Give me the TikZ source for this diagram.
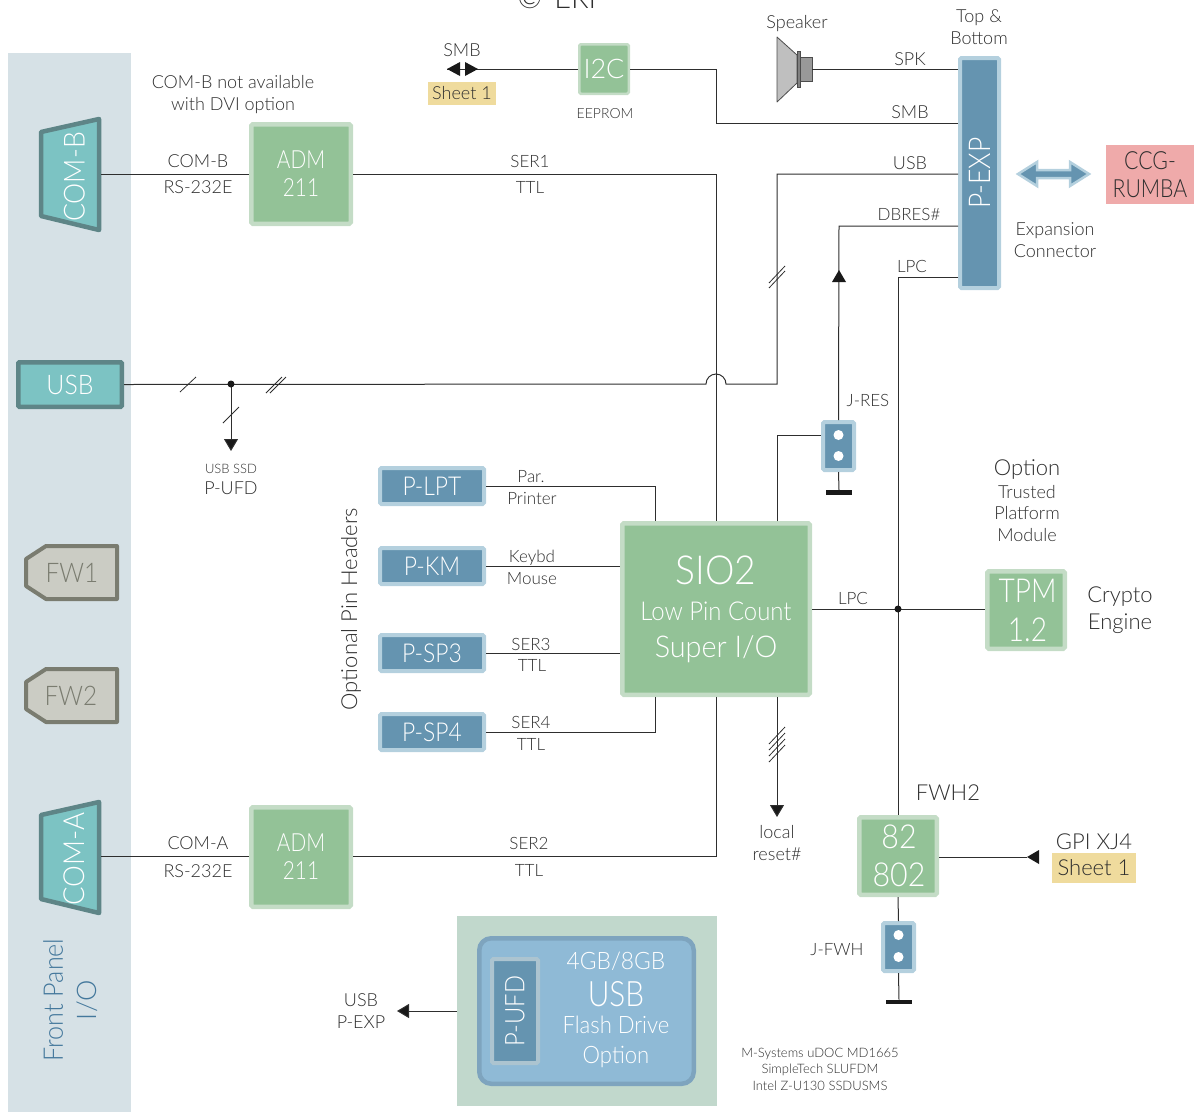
\documentclass[tikz,border=0pt]{standalone}
\usepackage{fontspec}
\usepackage{graphicx}
\setmainfont{Lato Light}
\usetikzlibrary{arrows.meta,calc}
\definecolor{panel}{HTML}{D6E1E6}
\definecolor{teal}{HTML}{7CC3C3}
\definecolor{tealdk}{HTML}{5E8587}
\definecolor{grn}{HTML}{93C297}
\definecolor{grnlt}{HTML}{C4DCC6}
\definecolor{blu}{HTML}{6594B0}
\definecolor{blult}{HTML}{B4D0DE}
\definecolor{fwf}{HTML}{CBCCC4}
\definecolor{fwd}{HTML}{7A7C70}
\definecolor{sheet}{HTML}{EFDB9D}
\definecolor{pinkb}{HTML}{EFAAAA}
\definecolor{ink}{HTML}{2E2E2E}
\definecolor{fpanel}{HTML}{44789C}
\definecolor{usbpanel}{HTML}{C1D8CC}
\definecolor{flash}{HTML}{8FBAD6}
\definecolor{flashd}{HTML}{7EA4BE}
\newcommand\fs[1]{\fontsize{#1}{#1}\selectfont}
\newcommand\nx[2][.86]{\scalebox{#1}[1]{#2}}
\newcommand\T[5]{\node[txt,font=\fs{#4}] (#1) at (#2,{#3+0.37*#4}) {#5};}
\newcommand\Rt[6]{\node[txt,rotate=90,font=\fs{#4},text=#5] (#1) at ({#2+0.37*#4},#3) {#6};}
\begin{document}
\begin{tikzpicture}[x=1pt,y=-1pt,
  txt/.style={inner sep=0,anchor=base,text=ink,align=center},
  wire/.style={draw=ink,line width=1pt},
  arr/.style={wire,-{Triangle[length=12pt,width=14pt,fill=black!90]}},
  busslash/.style={draw=ink,line width=.8pt},
  chip/.style={draw=grnlt,fill=grn,line width=4.5pt,rounded corners=1.5pt,text=white,inner sep=0,align=center},
  hdr/.style={draw=blult,fill=blu,line width=4pt,rounded corners=1.5pt,text=white,inner sep=0,align=center},
  conn/.style={draw=tealdk,fill=teal,line width=4.5pt,line join=round},
  fwshape/.style={draw=fwd,fill=fwf,line width=4pt,line join=round},
  hole/.style={circle,fill=white,inner sep=0,minimum size=10pt},
  gnd/.style={fill=black!90,inner sep=0,minimum width=26pt,minimum height=4.5pt},
  tag/.style={fill=sheet,text=ink,inner sep=0,align=center}]
\useasboundingbox (0,0) rectangle (1197,1112);
\clip (0,0) rectangle (1197,1112);

% panels
\fill[panel] (8,53) rectangle (131,1112);
\fill[usbpanel] (457,916) rectangle (717,1106);

% cut-off caption at the top
\T{cap}{557}{-2}{29}{©\hspace{.42em}ERI}

% left connectors
\draw[conn] (41,132) -- (99,119) -- (99,230) -- (41,216) -- cycle;
\Rt{comb}{74}{177}{29}{white}{\nx[.92]{COM-B}}
\coordinate (combE) at (101,174);
\draw[conn] (41,815) -- (99,802) -- (99,913) -- (41,899) -- cycle;
\Rt{coma}{74}{859}{29}{white}{\nx[.95]{COM-A}}
\coordinate (comaE) at (101,856);
\node[draw=tealdk,fill=teal,line width=4.5pt,rounded corners=1pt,text=white,inner sep=0,minimum width=103.5pt,minimum height=44.5pt,font=\fs{27}] (usb) at (70,384.5) {\nx[.92]{USB}};
\draw[fwshape] (117,546) -- (46,546) -- (26,559) -- (26,586) -- (46,599) -- (117,599) -- cycle;
\node[txt,font=\fs{27},text=fwd] (fw1) at (72,{572+0.37*27}) {\nx[.9]{FW1}};
\draw[fwshape] (117,669) -- (46,669) -- (26,682) -- (26,709) -- (46,722) -- (117,722) -- cycle;
\node[txt,font=\fs{27},text=fwd] (fw2) at (71,{695+0.37*27}) {\nx[.9]{FW2}};
\Rt{fp1}{53}{1000}{27}{fpanel}{\nx[.93]{Front Panel}}
\Rt{fp2}{87}{1000}{27}{fpanel}{I/O}

% chips
\node[chip,minimum width=99.5pt,minimum height=99.5pt,font=\fs{25}] (adm1) at (301,174) {\nx[.83]{ADM}\\[3pt]\nx[.83]{211}};
\node[chip,minimum width=99.5pt,minimum height=99.5pt,font=\fs{25}] (adm2) at (301,857) {\nx[.83]{ADM}\\[3pt]\nx[.83]{211}};
\node[chip,line width=2.5pt,minimum width=49.5pt,minimum height=49.5pt,font=\fs{27}] (i2c) at (604,69) {I2C};
\node[chip,minimum width=187.5pt,minimum height=171.5pt] (sio) at (716,609) {{\fs{40}\nx[.93]{SIO2}}\\[16pt]{\fs{26}\nx[.92]{Low Pin Count}}\\[14pt]{\fs{30}\nx[.96]{Super I/O}}};
\node[chip,minimum width=77.5pt,minimum height=77.5pt,font=\fs{33}] (tpm) at (1026,610) {\hspace*{3pt}\nx[.85]{TPM}\\[6pt]\hspace*{3pt}\nx[.85]{1.2}};
\node[chip,minimum width=77.5pt,minimum height=77.5pt,font=\fs{33}] (fwh) at (898,856) {\hspace*{2pt}\nx[.92]{82}\\[5pt]\hspace*{2pt}\nx[.92]{802}};

% headers
\node[hdr,rotate=90,minimum width=230pt,minimum height=39pt,font=\fs{30}] (pexp) at (979.5,173) {\nx[.88]{P-EXP}};
\node[hdr,minimum width=104pt,minimum height=36pt,font=\fs{26}] (plpt) at (432,486) {\nx[.88]{P-LPT}};
\node[hdr,minimum width=104pt,minimum height=36pt,font=\fs{26}] (pkm) at (432,566) {\nx[.88]{P-KM}};
\node[hdr,minimum width=104pt,minimum height=36pt,font=\fs{26}] (psp3) at (432,653) {\nx[.88]{P-SP3}};
\node[hdr,minimum width=104pt,minimum height=36pt,font=\fs{26}] (psp4) at (432,732) {\nx[.88]{P-SP4}};
\node[hdr,minimum width=31pt,minimum height=48pt] (jres) at (838.5,446) {};
\node[hole] (jres1) at (838.5,435) {};
\node[hole] (jres2) at (838.5,456) {};
\node[hdr,minimum width=31pt,minimum height=48pt] (jfwh) at (898.5,947) {};
\node[hole] (jfwh1) at (898.5,935) {};
\node[hole] (jfwh2) at (898.5,957) {};
\node[gnd] (g1) at (839,492.5) {};
\node[gnd] (g2) at (899,1002) {};

% tags and target box
\node[tag,minimum width=68pt,minimum height=23pt,font=\fs{18}] (sh1) at (462,93.5) {Sheet 1};
\node[tag,minimum width=84pt,minimum height=30pt,font=\fs{22}] (sh2) at (1094,868) {Sheet 1};
\node[fill=pinkb,text=ink,inner sep=0,align=center,minimum width=88pt,minimum height=59pt,font=\fs{25}] (ccg) at (1150,174.5) {\nx[.85]{CCG-}\\[3pt]\nx[.85]{RUMBA}};

% speaker
\draw[fill=black!25,draw=black!70,line width=.8pt,line join=round] (777,37) -- (797,55) -- (797,83) -- (777,102) -- cycle;
\node[fill=black!40,draw=black!70,line width=.8pt,inner sep=0,minimum width=12pt,minimum height=24pt] (spkm) at (806,69) {};
\node[fill=black!50,draw=black!70,line width=.8pt,inner sep=0,minimum width=3pt,minimum height=36pt] (spkf) at (798.5,69) {};

% expansion double arrow
\draw[fill=blu,draw=blult,line width=2.5pt,line join=miter] (1018,174) -- (1037,162) -- (1037,170) -- (1070,170) -- (1070,162) -- (1089,174) -- (1070,186) -- (1070,178) -- (1037,178) -- (1037,186) -- cycle;

% flash module
\node[draw=flashd,fill=flash,line width=4.5pt,rounded corners=12pt,inner sep=0,minimum width=214.5pt,minimum height=145.5pt] (flashbox) at (586.5,1011) {};
\node[hdr,draw=blult!85!gray,rotate=90,minimum width=104pt,minimum height=46pt,font=\fs{27}] (pufd) at (515,1011) {\nx[.88]{P-UFD}};
\node[txt,text=white,font=\fs{24}] (f1) at (616,{961+0.37*24}) {\nx[.95]{4GB/8GB}};
\node[txt,text=white,font=\fs{35}] (f2) at (616,{994+0.37*35}) {\nx[.85]{USB}};
\node[txt,text=white,font=\fs{24}] (f3) at (616,{1025+0.37*24}) {\nx[.92]{Flash Drive}};
\node[txt,text=white,font=\fs{24}] (f4) at (616,{1055+0.37*24}) {\nx[.92]{Option}};

% connectors
\coordinate (pw) at (958,0);
\draw[wire] (combE) -- (adm1.west);
\draw[wire] (comaE) -- (comaE -| adm2.west);
\draw[wire] (adm1.east) -- (716,174) -- (sio.north);
\draw[wire] (adm2.east |- comaE) -- (716,856) -- (sio.south);
\draw[wire] (spkm.east) -- (spkm.east -| pw);
\draw[wire] (i2c.east) -- (716,69) -- (716,123) -- (pw |- 0,123);
\draw[wire] (i2c.west) -- (447,69);
\fill[black!90] (478,69) -- (465,62) -- (465,76) -- cycle;
\fill[black!90] (447,69) -- (460,62) -- (460,76) -- cycle;
\draw[wire] (usb.east) -- (706,384) arc[start angle=180,end angle=0,radius=10pt] -- (777,384) -- (777,174) -- (pw |- 0,174);
\draw[wire] (pw |- 0,226) -- (839,226) -- (jres.north);
\fill[black!90] (839,270) -- (832,282) -- (846,282) -- cycle;
\draw[wire] (pw |- 0,277) -- (898,277) -- (fwh.north);
\draw[wire] (sio.north -| 777,0) -- (777,435) -- (jres.west |- 0,435);
\draw[wire] (jres.south) -- (g1.north);
\draw[wire] (plpt.east) -- (655,486) -- (sio.north -| 655,0);
\draw[wire] (pkm.east) -- (pkm.east -| sio.west);
\draw[wire] (psp3.east) -- (psp3.east -| sio.west);
\draw[wire] (psp4.east) -- (655,732) -- (sio.south -| 655,0);
\draw[wire] (sio.east) -- (tpm.west |- sio.east);
\coordinate (dot1) at (231,384);
\coordinate (ufdtip) at (231,451);
\draw[arr] (dot1) -- (ufdtip);
\fill[black!90] (dot1) circle (3.5pt);
\fill[black!90] (898,609) circle (3.5pt);
\coordinate (resetTip) at (777,817);
\draw[arr] (sio.south -| 777,0) -- (resetTip);
\coordinate (gpiTip) at (1027,857);
\draw[wire] (fwh.east |- gpiTip) -- (gpiTip);
\fill[black!90] (1027,857) -- (1039,850) -- (1039,864) -- cycle;
\draw[wire] (fwh.south) -- (jfwh.north);
\draw[wire] (jfwh.south) -- (g2.north);
\coordinate (usbTip) at (397,1011);
\draw[arr] (457,1011) -- (usbTip);

% bus slashes
\draw[busslash] (180,392) -- (196,377);
\draw[busslash] (223,423) -- (239,407);
\draw[busslash] (266,393) -- (282,377) (270,393) -- (286,377);
\draw[busslash] (769,283) -- (785,266) (769,288) -- (785,271);
\draw[busslash] (769,744) -- (785,727) (769,750) -- (785,733) (769,756) -- (785,739) (769,762) -- (785,745);

% labels
\T{a1}{233}{82}{18}{COM-B not available}
\T{a2}{233}{104}{18}{with DVI option}
\T{a3}{198}{161}{18}{COM-B}
\T{a4}{198}{187}{18}{RS-232E}
\T{a5}{530}{161}{17}{SER1}
\T{a6}{530}{187}{17}{TTL}
\T{a7}{198}{843}{18}{COM-A}
\T{a8}{198}{871}{18}{RS-232E}
\T{a9}{529}{843}{17}{SER2}
\T{a10}{529}{870}{17}{TTL}
\T{b1}{462}{50}{18}{SMB}
\T{b2}{605}{113}{14}{EEPROM}
\T{b3}{797}{22}{18}{Speaker}
\T{b4}{979}{16}{18}{Top \&}
\T{b5}{979}{38}{18}{Bottom}
\T{b6}{910}{59}{18}{SPK}
\T{b7}{910}{112}{18}{SMB}
\T{b8}{910}{163}{18}{USB}
\T{b9}{909}{214}{17}{DBRES\#}
\T{b10}{912}{266}{17}{LPC}
\T{b11}{1055}{229}{18}{Expansion}
\T{b12}{1055}{251}{18}{Connector}
\T{c1}{231}{469}{13}{USB SSD}
\T{c2}{231}{488}{18}{P-UFD}
\T{c3}{868}{400}{17}{J-RES}
\T{c4}{531}{476}{17}{Par.}
\T{c5}{532}{498}{17}{Printer}
\T{c6}{532}{556}{17}{Keybd}
\T{c7}{532}{578}{17}{Mouse}
\T{c8}{531}{644}{17}{SER3}
\T{c9}{532}{665}{17}{TTL}
\T{c10}{531}{722}{17}{SER4}
\T{c11}{531}{744}{17}{TTL}
\Rt{c12}{349}{609}{22}{ink}{Optional Pin Headers}
\T{d1}{853}{598}{17}{LPC}
\T{d2}{1027}{467}{22}{Option}
\T{d3}{1027}{492}{18}{Trusted}
\T{d4}{1027}{513}{18}{Platform}
\T{d5}{1027}{535}{18}{Module}
\T{d6}{1120}{594}{22}{Crypto}
\T{d7}{1120}{621}{22}{Engine}
\T{d8}{777}{832}{18}{local}
\T{d9}{777}{854}{18}{reset\#}
\T{d10}{948}{792}{22}{FWH2}
\T{d11}{1094}{841}{22}{GPI XJ4}
\T{d12}{837}{949}{17}{J-FWH}
\T{e1}{361}{1000}{18}{USB}
\T{e2}{361}{1022}{18}{P-EXP}
\T{e3}{820}{1053}{13}{M-Systems uDOC MD1665}
\T{e4}{820}{1069}{13}{SimpleTech SLUFDM}
\T{e5}{820}{1086}{13}{Intel Z-U130 SSDUSMS}
\end{tikzpicture}
\end{document}
